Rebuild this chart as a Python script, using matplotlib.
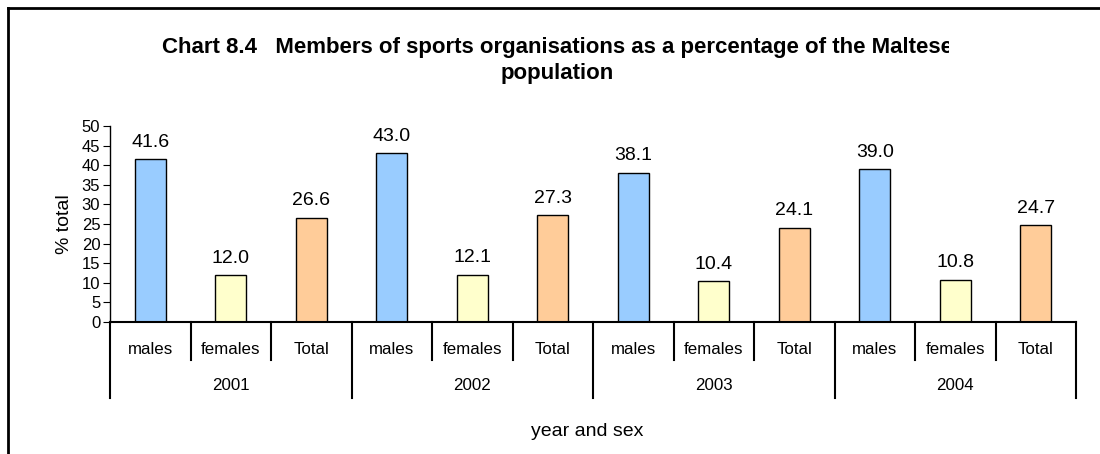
import numpy as np
import matplotlib.pyplot as plt
from matplotlib.lines import Line2D
from matplotlib.transforms import Bbox

# Data
years = ["2001", "2002", "2003", "2004"]
sexes = ["males", "females", "Total"]
values = [41.6, 12.0, 26.6,
          43.0, 12.1, 27.3,
          38.1, 10.4, 24.1,
          39.0, 10.8, 24.7]
colours = {"males": "#99CCFF", "females": "#FFFFCC", "Total": "#FFCC99"}

W, H = 1100, 454
plt.rcParams["font.family"] = ["Liberation Sans", "DejaVu Sans"]
fig = plt.figure(figsize=(W / 100, H / 100), dpi=100)

# axes placed in pixel terms
x0, x1, ybot, ytop = 110, 1076, 322, 126
ax = fig.add_axes([x0 / W, 1 - ybot / H, (x1 - x0) / W, (ybot - ytop) / H])

n = len(values)
xs = np.arange(n)
bar_cols = [colours[sexes[i % 3]] for i in range(n)]
ax.bar(xs, values, width=0.385, color=bar_cols, edgecolor="black", linewidth=1.0)

for x, v in zip(xs, values):
    ax.annotate("{:.1f}".format(v), (x, v), xytext=(0, 6), textcoords="offset points",
                ha="center", va="bottom", fontsize=14)

ax.set_xlim(-0.5, n - 0.5)
ax.set_ylim(0, 50)
ax.set_yticks(range(0, 51, 5))
ax.tick_params(axis="y", direction="out", length=5, labelsize=12, pad=2)
ax.set_xticks([])
for s in ["top", "right"]:
    ax.spines[s].set_visible(False)
ax.spines["bottom"].set_linewidth(1.5)
ax.spines["left"].set_linewidth(1.0)
ax.set_ylabel("% total", fontsize=14, labelpad=6)

# multi-level category axis
tr = ax.get_xaxis_transform()
per_px = 1.0 / (ybot - ytop)
for b in range(n + 1):
    depth = 76 if b % 3 == 0 else 38
    ax.add_line(Line2D([b - 0.5, b - 0.5], [0, -depth * per_px], transform=tr,
                       color="black", lw=1.5, clip_on=False))
for i in range(n):
    ax.text(i, -28 * per_px, sexes[i % 3], transform=tr, ha="center", va="center",
            fontsize=12.2)
for j, yr in enumerate(years):
    ax.text(3 * j + 1, -63 * per_px, yr, transform=tr, ha="center", va="center",
            fontsize=12.2)

fig.text(587 / W, 1 - 431 / H, "year and sex", ha="center", va="center", fontsize=14)

# title, clipped at the right as in the original
t1 = fig.text(557 / W, 1 - 47 / H,
              "Chart 8.4   Members of sports organisations as a percentage of the Maltese",
              ha="center", va="center", fontsize=16, fontweight="bold")
t1.set_clip_box(Bbox([[0, 0], [949, H]]))
t1.set_clip_on(True)
fig.text(557 / W, 1 - 73 / H, "population", ha="center", va="center",
         fontsize=16, fontweight="bold")

# outer frame (left and top edges only visible)
fig.add_artist(Line2D([8 / W, 8 / W], [0, 1 - 8 / H], color="black", lw=2))
fig.add_artist(Line2D([8 / W, 1], [1 - 8 / H, 1 - 8 / H], color="black", lw=2))

fig.savefig("out.png", dpi=100)
